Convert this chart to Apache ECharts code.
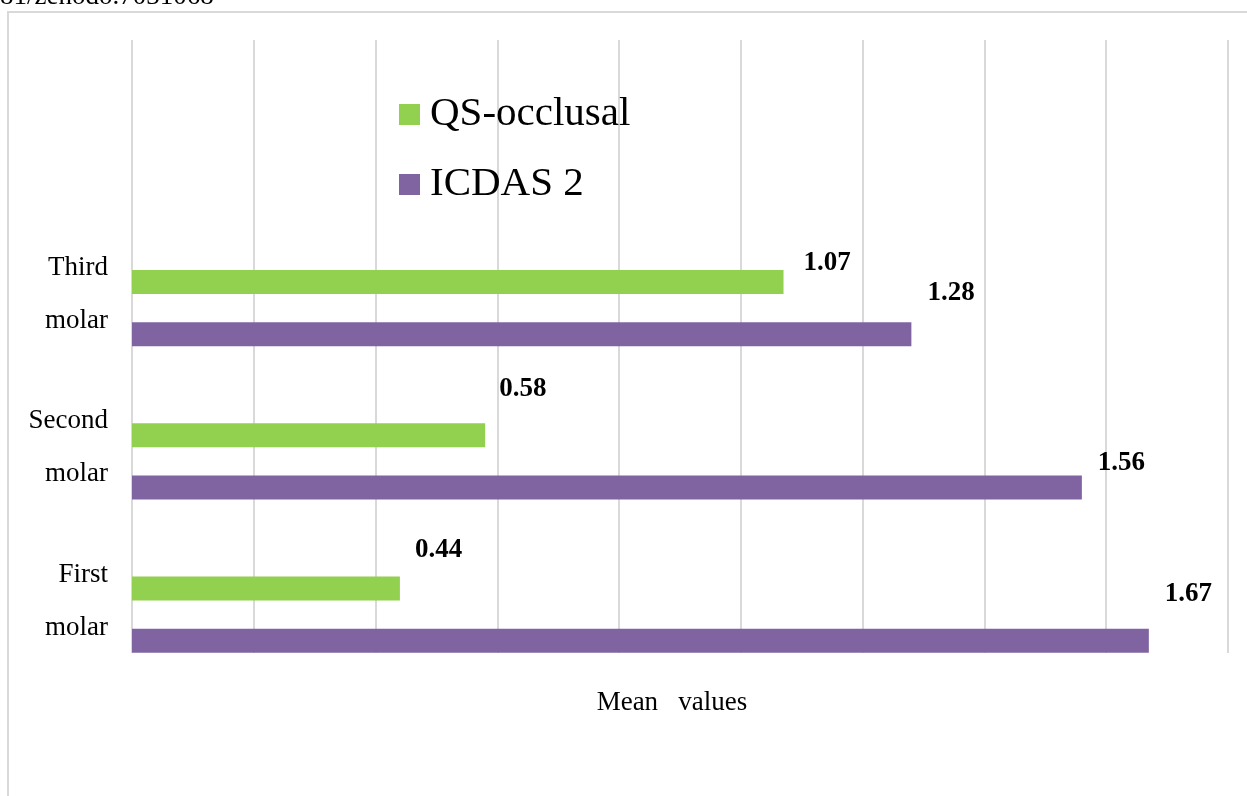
<!DOCTYPE html>
<html>
<head>
<meta charset="utf-8">
<script src="https://cdn.jsdelivr.net/npm/echarts@6/dist/echarts.min.js"></script>
<style>
  html, body { margin: 0; padding: 0; background: #fff; }
  #chart { width: 1247px; height: 796px; }
</style>
</head>
<body>
<div id="chart"></div>
<script>
// ---- data ----
const categories = ['First\nmolar', 'Second\nmolar', 'Third\nmolar'];
const seriesNames = ['QS-occlusal', 'ICDAS 2'];
const qsOcclusal = [0.44, 0.58, 1.07];
const icdas2 = [1.67, 1.56, 1.28];
const xTicks = [0, 0.2, 0.4, 0.6, 0.8, 1.0, 1.2, 1.4, 1.6, 1.8];
const axisName = 'Mean   values';
const sourceText = '81/zenodo.7031068';

// ---- label placement (style, not data) ----
const qsLabelOffset = [[15, -39], [14, -46], [20, -19]];
const icdasLabelOffset = [[16, -47], [16, -24], [16, -41]];

const FONT = "'Liberation Serif', 'Times New Roman', serif";
const GREEN = '#92d050';
const PURPLE = '#8064a2';
const GRID = '#d9d9d9';

function withLabels(values, offsets) {
  return values.map((v, i) => ({
    value: v,
    label: { offset: offsets[i] }
  }));
}

const chart = echarts.init(document.getElementById('chart'), null, { renderer: 'canvas' });

const gridLeft = 132;
const gridWidth = 1096;

const option = {
  backgroundColor: '#ffffff',
  animation: false,
  graphic: [
    {
      type: 'rect',
      silent: true,
      shape: { x: 8, y: 12, width: 1400, height: 1000 },
      style: { fill: 'none', stroke: GRID, lineWidth: 2 }
    },
    {
      type: 'text',
      silent: true,
      left: 0,
      top: -17,
      style: { text: sourceText, font: '27px ' + FONT, fill: '#000' }
    }
  ],
  legend: {
    orient: 'vertical',
    left: 394,
    top: 89,
    itemWidth: 21,
    itemHeight: 21,
    itemGap: 29,
    icon: 'rect',
    data: seriesNames,
    textStyle: {
      fontFamily: FONT,
      fontSize: 41,
      lineHeight: 40,
      color: '#000',
      padding: [0, 0, 0, 5]
    }
  },
  grid: [
    { left: gridLeft, width: gridWidth, top: 40, height: 613 },
    { left: gridLeft, width: gridWidth, top: 231.5, height: 459.75 }
  ],
  xAxis: [
    {
      gridIndex: 0,
      type: 'value',
      min: xTicks[0],
      max: xTicks[xTicks.length - 1],
      interval: xTicks[1] - xTicks[0],
      axisLine: { show: false },
      axisTick: { show: false },
      axisLabel: { show: false },
      splitLine: { show: true, lineStyle: { color: GRID, width: 2 } },
      name: axisName,
      nameLocation: 'middle',
      nameGap: 36,
      nameTextStyle: {
        fontFamily: FONT,
        fontSize: 27,
        color: '#000',
        padding: [0, 16, 0, 0]
      }
    },
    {
      gridIndex: 1,
      type: 'value',
      min: xTicks[0],
      max: xTicks[xTicks.length - 1],
      interval: xTicks[1] - xTicks[0],
      show: false,
      splitLine: { show: false }
    }
  ],
  yAxis: [
    {
      gridIndex: 0,
      type: 'value',
      show: false,
      splitLine: { show: false }
    },
    {
      gridIndex: 1,
      type: 'category',
      data: categories,
      axisLine: { show: false },
      axisTick: { show: false },
      splitLine: { show: false },
      axisLabel: {
        interval: 0,
        hideOverlap: false,
        margin: 24,
        align: 'right',
        formatter: v => v.split('\n').map(s => '{a|' + s + '}').join('\n') + '\n{b| }',
        rich: {
          a: { fontFamily: FONT, fontSize: 27, lineHeight: 53, color: '#000', align: 'right' },
          b: { fontFamily: FONT, fontSize: 10, lineHeight: 27, color: '#000', align: 'right' }
        }
      }
    }
  ],
  series: [
    {
      name: seriesNames[0],
      type: 'bar',
      xAxisIndex: 1,
      yAxisIndex: 1,
      data: withLabels(qsOcclusal, qsLabelOffset),
      barWidth: 24,
      barGap: '117%',
      itemStyle: { color: GREEN },
      label: {
        show: true,
        position: 'right',
        distance: 0,
        fontFamily: FONT,
        fontWeight: 'bold',
        fontSize: 27,
        color: '#000',
        formatter: p => p.value.toFixed(2)
      }
    },
    {
      name: seriesNames[1],
      type: 'bar',
      xAxisIndex: 1,
      yAxisIndex: 1,
      data: withLabels(icdas2, icdasLabelOffset),
      barWidth: 24,
      barGap: '117%',
      itemStyle: { color: PURPLE },
      label: {
        show: true,
        position: 'right',
        distance: 0,
        fontFamily: FONT,
        fontWeight: 'bold',
        fontSize: 27,
        color: '#000',
        formatter: p => p.value.toFixed(2)
      }
    }
  ]
};

chart.setOption(option);
</script>
</body>
</html>
